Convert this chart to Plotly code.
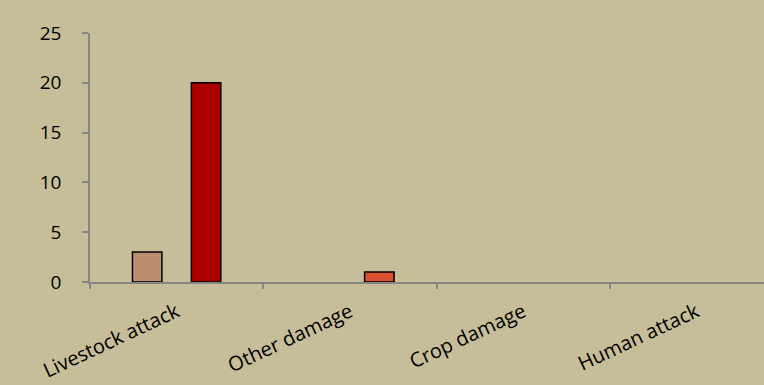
import plotly.graph_objects as go

categories = ["Livestock attack", "Other damage", "Crop damage", "Human attack"]
series1 = [3, None, None, None]
series2 = [None, None, None, None]
series3 = [20, 1, None, None]
series1_colors = ["#bd8d71"] * 4
series3_colors = ["#aa0000", "#d9502e", "#d9502e", "#d9502e"]
y_ticks = [0, 5, 10, 15, 20, 25]

fig = go.Figure()
fig.add_trace(go.Bar(x=categories, y=series1, name="Series 1",
                     marker=dict(color=series1_colors, line=dict(color="#000000", width=1.5))))
fig.add_trace(go.Bar(x=categories, y=series2, name="Series 2",
                     marker=dict(color="#888888", line=dict(color="#000000", width=1.5))))
fig.add_trace(go.Bar(x=categories, y=series3, name="Series 3",
                     marker=dict(color=series3_colors, line=dict(color="#000000", width=1.5))))

bg = "#c6be99"
fig.update_layout(
    width=764, height=385,
    margin=dict(l=90, r=0, t=33, b=103),
    paper_bgcolor=bg, plot_bgcolor=bg,
    barmode="group", bargap=0.49, bargroupgap=0,
    showlegend=False,
    font=dict(family="Open Sans", size=19, color="#000000"),
    xaxis=dict(
        type="category", range=[-0.5, 3.39], automargin=False,
        showline=True, linecolor="#868686", linewidth=1.5,
        ticks="outside", tickson="boundaries", ticklen=5, tickcolor="#868686", tickwidth=1.5,
        tickangle=-25, showgrid=False, zeroline=False,
        tickfont=dict(family="Open Sans", size=20),
        ticklabelstandoff=9,
    ),
    yaxis=dict(
        range=[0, 25], tickvals=y_ticks, automargin=False,
        showline=True, linecolor="#868686", linewidth=1.5,
        ticks="outside", ticklen=6, tickcolor="#868686", tickwidth=1.5,
        showgrid=False, zeroline=False,
        tickfont=dict(family="Open Sans", size=19),
        ticklabelstandoff=17,
    ),
)
fig.write_html("out.html")
